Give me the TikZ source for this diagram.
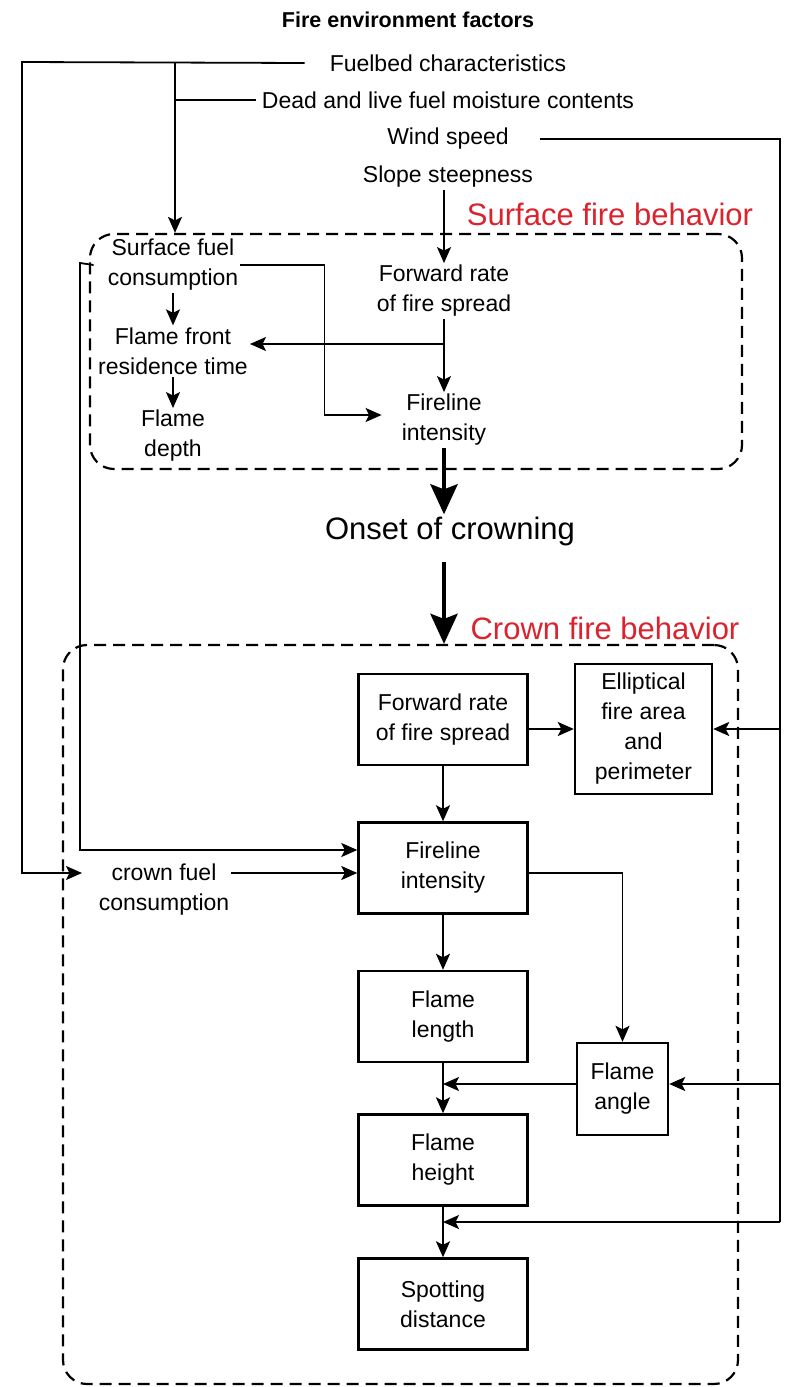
\documentclass[tikz,border=0pt]{standalone}
\usepackage{fontspec}
\setmainfont{Liberation Sans}
\usetikzlibrary{arrows.meta}
\definecolor{firered}{RGB}{218,35,45}
\begin{document}
\begin{tikzpicture}[x=1pt, y=-1pt,
    every node/.style={font=\fontsize{23}{30}\selectfont, align=center, inner sep=2pt},
    box/.style={draw, line width=2.4pt, minimum width=169pt, minimum height=91pt},
    zone/.style={draw, dash pattern=on 12pt off 7pt, line width=2.2pt, rounded corners=24pt},
    conn/.style={line width=1.8pt},
    arr/.style={conn, -{Stealth[length=16pt, width=14pt, inset=3.5pt]}},
    big/.style={line width=4.5pt, -{Stealth[length=30pt, width=27pt, inset=5pt]}},
    tag/.style={text=firered, font=\fontsize{31}{36}\selectfont},
]
\useasboundingbox (0,0) rectangle (786,1387);

% dashed regions
\node[zone, minimum width=652pt, minimum height=235pt] (szone) at (416,351.5) {};
\node[zone, minimum width=675pt, minimum height=739pt] (czone) at (400.5,1014.5) {};

% environment factors
\node[font=\bfseries\fontsize{21.5}{25}\selectfont] (title) at (408,20) {Fire environment factors};
\node (fuel) at (448,63) {Fuelbed characteristics};
\node (moist) at (448,100) {Dead and live fuel moisture contents};
\node (wind) at (448,139) {Wind speed};
\node (slope) at (448,177) {Slope steepness};
\node[tag] (stag) at (610,214) {Surface fire behavior};
\node[tag] (ctag) at (605,628) {Crown fire behavior};

% surface fire
\node (sfc) at (173,265) {Surface fuel\\consumption};
\node (sfront) at (173,351) {Flame front\\residence time};
\node (sdepth) at (173,436) {Flame\\depth};
\node (sfwd) at (444,291) {Forward rate\\of fire spread};
\node (sfli) at (444,420) {Fireline\\intensity};
\node[font=\fontsize{31}{36}\selectfont] (onset) at (450,531) {Onset of crowning};

% crown fire
\node[box] (cfwd) at (443,719.5) {Forward rate\\of fire spread};
\node[box, minimum width=137pt, minimum height=130pt] (cell) at (643.5,729) {Elliptical\\fire area\\and\\perimeter};
\node[box] (cfli) at (443,868) {Fireline\\intensity};
\node[box] (clen) at (443,1016.5) {Flame\\length};
\node[box, minimum width=91pt, minimum height=92pt] (cang) at (622.5,1089) {Flame\\angle};
\node[box] (chei) at (443,1160) {Flame\\height};
\node[box] (cspot) at (443,1304) {Spotting\\distance};
\node (ccfc) at (164,890) {crown fuel\\consumption};

\coordinate (fl) at (22,62);
\coordinate (fb) at (175,62);
\coordinate (wx) at (780,139);
\coordinate (wb) at (780,1222);
\coordinate (sl) at (80,263);
\coordinate (cin) at (82,873);
\coordinate (sj) at (444,344);

% inputs
\draw[arr] ([xshift=-23pt]fuel.west) -- (fl) |- (cin);
\draw[arr] (fb) -- (fb |- szone.north);
\draw[conn] (fb |- moist.west) -- ([xshift=-4pt]moist.west);
\draw[conn] ([xshift=29pt]wind.east) -- (wx) -- (wb);
\draw[arr] (wx |- cell.east) -- (cell.east);
\draw[arr] ([yshift=5pt]cang.east -| wx) -- ([yshift=5pt]cang.east);
\draw[arr] (wb) -- (wb -| chei.south);
\draw[arr] (sfwd.north |- slope.south) -- (sfwd.north);

% surface links
\draw[arr] (sfc.south) -- (sfront.north);
\draw[arr] (sfront.south) -- (sdepth.north);
\draw[arr] (sfwd.south) -- (sfli.north);
\draw[arr] (sj) -- (sj -| sfront.east);
\draw[arr, shorten >=18pt] (sfc.east) -- ++(84,0) |- ([yshift=5pt]sfli.west);
\draw[arr] ([xshift=-12pt]sfc.west) -- (sl) |- ([yshift=18pt]cfli.west);

\draw[big] (sfli.south) -- (onset.north -| sfli.south);
\draw[big, shorten <=14pt] (onset.south -| sfli.south) -- (czone.north -| sfli.south);

% crown links
\draw[arr] (cfwd.east |- cell.west) -- (cell.west);
\draw[arr] (cfwd.south) -- (cfli.north);
\draw[arr] (ccfc.east |- cin) -- (cfli.west |- cin);
\draw[arr] (cfli.south) -- (clen.north);
\draw[arr] (cfli.east |- cin) -| (cang.north);
\draw[arr] (clen.south) -- (chei.north);
\draw[arr] ([yshift=5pt]cang.west) -- ([yshift=5pt]cang.west -| clen.south);
\draw[arr] (chei.south) -- (cspot.north);
\end{tikzpicture}
\end{document}
